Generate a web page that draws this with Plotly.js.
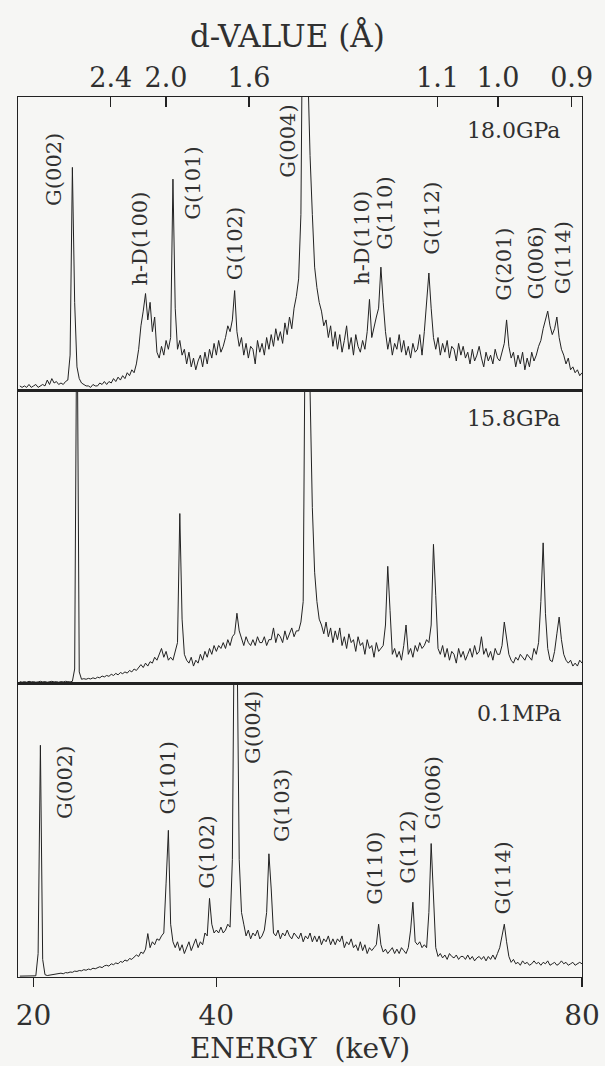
<!DOCTYPE html>
<html>
<head>
<meta charset="utf-8">
<script src="https://cdn.plot.ly/plotly-3.0.1.min.js"></script>
<style>
  html, body { margin: 0; padding: 0; background: #f6f6f4; }
  #chart { width: 605px; height: 1066px; }
</style>
</head>
<body>
<div id="chart"></div>
<script>
// Channel energies (keV)
const energy = [18.5,18.75,
19,19.25,19.5,19.75,20,20.25,20.5,20.75,21,21.25,21.5,21.75,22,22.25,22.5,22.75,23,23.25,23.5,23.75,
24,24.25,24.5,24.75,25,25.25,25.5,25.75,26,26.25,26.5,26.75,27,27.25,27.5,27.75,28,28.25,28.5,28.75,
29,29.25,29.5,29.75,30,30.25,30.5,30.75,31,31.25,31.5,31.75,32,32.25,32.5,32.75,33,33.25,33.5,33.75,
34,34.25,34.5,34.75,35,35.25,35.5,35.75,36,36.25,36.5,36.75,37,37.25,37.5,37.75,38,38.25,38.5,38.75,
39,39.25,39.5,39.75,40,40.25,40.5,40.75,41,41.25,41.5,41.75,42,42.25,42.5,42.75,43,43.25,43.5,43.75,
44,44.25,44.5,44.75,45,45.25,45.5,45.75,46,46.25,46.5,46.75,47,47.25,47.5,47.75,48,48.25,48.5,48.75,
49,49.25,49.5,49.75,50,50.25,50.5,50.75,51,51.25,51.5,51.75,52,52.25,52.5,52.75,53,53.25,53.5,53.75,
54,54.25,54.5,54.75,55,55.25,55.5,55.75,56,56.25,56.5,56.75,57,57.25,57.5,57.75,58,58.25,58.5,58.75,
59,59.25,59.5,59.75,60,60.25,60.5,60.75,61,61.25,61.5,61.75,62,62.25,62.5,62.75,63,63.25,63.5,63.75,
64,64.25,64.5,64.75,65,65.25,65.5,65.75,66,66.25,66.5,66.75,67,67.25,67.5,67.75,68,68.25,68.5,68.75,
69,69.25,69.5,69.75,70,70.25,70.5,70.75,71,71.25,71.5,71.75,72,72.25,72.5,72.75,73,73.25,73.5,73.75,
74,74.25,74.5,74.75,75,75.25,75.5,75.75,76,76.25,76.5,76.75,77,77.25,77.5,77.75,78,78.25,78.5,78.75,
79,79.25,79.5,79.75,80];

// Intensity (% of panel height) — 18.0 GPa
const int18GPa = [1.5,1,
1.5,1,2,1,
1.5,2,1,1.5,
2,1.5,3.5,2,
4,2.5,3,2,
2.5,2,3,3.5,
12,76,30,8,
4,2.5,2,1.5,
1.5,1,2,1.5,
1.5,2.5,2,3,
2,3,2.5,4,
3,4.5,3.5,5,
4,6,5,7,
6,9,14,22,
27,33,24,30,
20,25,13,11,
15,12,17,14,
18,72,28,14,
17,12,14,9,
13,8,11,7,
10,12,8,13,
9,14,11,16,
12,17,13,15,
18,22,20,24,
34,20,15,18,
12,16,11,15,
14,9,17,13,
16,12,18,14,
19,15,21,17,
20,16,23,19,
25,21,28,32,
38,60,160,160,
110,80,60,42,
35,30,27,22,
24,18,22,15,
20,14,19,13,
17,22,14,18,
12,19,15,13,
17,14,20,31,
18,22,25,28,
42,30,20,14,
18,12,16,14,
19,13,17,12,
15,11,16,13,
14,19,12,20,
30,40,28,18,
14,18,12,16,
13,17,11,15,
14,10,16,12,
15,11,13,9,
14,10,12,15,
11,8,13,10,
12,9,14,11,
10,13,16,24,
15,11,13,8,
12,9,13,7,
11,8,13,10,
12,15,17,21,
24,27,22,19,
21,25,18,14,
12,9,11,7,
8,6,7,5,
6];

// Intensity (% of panel height) — 15.8 GPa
const int158GPa = [0.7,0.5,
0.7,0.5,0.8,0.6,
0.7,0.5,0.6,0.8,
0.6,0.7,0.5,0.7,
0.8,0.6,0.7,0.5,
0.7,0.6,0.8,0.7,
0.6,0.8,5,140,
4,1.5,1.7,1.5,
1.8,1.6,2,1.7,
2.2,2,2.6,2.3,
2.8,2.5,3.2,2.8,
3.5,3,3.8,3.4,
4,3.6,4.5,4,
5,4.5,5.5,6.5,
5.5,7,6,7.5,
7,9,8,10,
12,9,11,8,
9,8,11,14,
58,22,10,8,
7,9,6,8,
7,10,8,11,
9,12,10,13,
11,13,12,14,
12,15,13,16,
17,24,18,15,
13,16,14,13,
15,13,16,14,
14,16,13,15,
15,19,14,17,
16,14,18,15,
17,19,16,18,
18,21,28,140,
140,100,60,38,
28,22,20,17,
21,16,19,14,
18,15,19,13,
16,12,17,14,
15,11,16,13,
14,10,15,12,
13,9,14,11,
12,13,20,40,
25,10,12,9,
11,8,13,20,
10,12,9,13,
11,14,12,13,
15,14,20,47.5,
30,12,10,13,
9,12,8,11,
10,7,12,9,
11,8,10,12,
9,13,10,11,
16,10,12,9,
11,8,12,10,
10,13,21,15,
10,8,7,9,
8,10,9,8,
10,9,8,12,
10,14,28,48,
24,12,8,7.5,
11,17,22.7,15,
10,8,7,8,
6,7,6,8,
7];

// Intensity (% of panel height) — 0.1 MPa
const int01MPa = [0.3,0.3,
0.4,0.3,0.3,0.4,
0.3,0.4,8,79,
6,0.8,0.5,0.6,
0.8,1,0.9,1.2,
1.3,1.1,1.5,1.4,
1.7,1.6,2,1.9,
2.2,2.1,2.5,2.3,
2.7,2.5,3,2.8,
3.2,3.5,3.2,3.8,
4,3.7,4.5,4.2,
4.8,4.5,5.3,5,
5.8,5.4,6.3,6,
6.8,7.5,7,8.5,
8,9.5,14.8,10,
12,11,13,12.5,
14,15,32,50,
18,12,10,12,
9,11,8,10,
12,9,11,13,
10,12,11,15,
14,26.8,18,15,
16,15,17,15,
16,18,17,40,
140,120,40,22,
18,14,16,13,
15,14,16,13,
14,16,22,42,
30,15,14,16,
13,15,14,16,
14,13,15,14,
13,15,12,14,
13,15,12,14,
12,14,11,13,
12,14,11,13,
11,13,12,14,
10,12,11,13,
10,11,9,12,
9,11,8,10,
9,10,11,18,
11,8.5,9.5,8,
9,10,8,9.5,
8,10,9,8,
10,16,25.5,12,
11,12,10,11,
10,22,45.5,28,
10,7,8,6.5,
7.5,6,8,7,
6.5,7.5,6,7,
7,6,7.5,6,
7,5.5,6.5,7,
6,7,5.5,7,
6,7.5,6,8,
10,14,18,12,
7,5,6,4.5,
5,4,5.5,4.5,
5,4,4.5,5.5,
4.5,5,4,5,
4.5,5.5,4,4.5,
5,4,4.5,5.5,
4.5,5,4,4.5,
5,4,4.5,5,
4.5];

// Axis ticks
const energyTicks = [20, 40, 60, 80];
const dValues = [2.4, 2.0, 1.6, 1.1, 1.0, 0.9];
const dLabels = ['2.4', '2.0', '1.6', '1.1', '1.0', '0.9'];

// Panel labels
const panelNames = ['18.0GPa', '15.8GPa', '0.1MPa'];
const topPeakNames = ['G(002)', 'h-D(100)', 'G(101)', 'G(102)', 'G(004)', 'h-D(110)', 'G(110)', 'G(112)', 'G(201)', 'G(006)', 'G(114)'];
const bottomPeakNames = ['G(002)', 'G(101)', 'G(102)', 'G(004)', 'G(103)', 'G(110)', 'G(112)', 'G(006)', 'G(114)'];

// energy-dispersive calibration E = k/d + c for the d-value axis (top panel)
const calK = 72.6, calC = -1.8;
const dTickPos = dValues.map(d => calK / d + calC);

const FONT = 'DejaVu Serif';
const INK = '#303030';
const LINE = '#222222';

// layout placement of peak labels [energy, height%]
const topPeakPos = [[22.26,75.2],[31.63,51.7],[37.35,70.5],[41.98,50],[47.8,85],[55.85,52.1],[58.5,60.4],[63.56,58.7],[71.49,42.9],[75.02,43.4],[77.88,45.2]];
const bottomPeakPos = [[23.44,66.5],[34.71,67.7],[38.98,42.4],[44.01,84.9],[47.18,58.6],[57.36,36.9],[60.97,44.1],[63.7,62.6],[71.36,33.6]];

const traceStyle = {mode: 'lines', line: {color: LINE, width: 1}, hoverinfo: 'skip', showlegend: false};
const data = [
  Object.assign({x: energy, y: int18GPa, xaxis: 'x3', yaxis: 'y3'}, traceStyle),
  Object.assign({x: energy, y: int158GPa, xaxis: 'x2', yaxis: 'y2'}, traceStyle),
  Object.assign({x: energy, y: int01MPa, xaxis: 'x', yaxis: 'y'}, traceStyle)
];

const annotations = [];
topPeakNames.forEach((t, i) => annotations.push({
  text: t, x: topPeakPos[i][0], y: topPeakPos[i][1], xref: 'x3', yref: 'y3',
  textangle: -90, showarrow: false, font: {family: FONT, size: 21, color: INK}
}));
bottomPeakNames.forEach((t, i) => annotations.push({
  text: t, x: bottomPeakPos[i][0], y: bottomPeakPos[i][1], xref: 'x', yref: 'y',
  textangle: -90, showarrow: false, font: {family: FONT, size: 21, color: INK}
}));
const panelRefs = [['x3','y3',88.6],['x2','y2',90.5],['x','y',89.7]];
panelNames.forEach((t, i) => annotations.push({
  text: t, x: 77.9, y: panelRefs[i][2], xref: panelRefs[i][0], yref: panelRefs[i][1],
  xanchor: 'right', yanchor: 'middle', showarrow: false, font: {family: FONT, size: 22, color: INK}
}));

const xr = [18.3, 80];
const frameX = {range: xr, showline: true, mirror: true, linecolor: LINE, linewidth: 1.2,
  showgrid: false, zeroline: false, fixedrange: true};
const frameY = {range: [0, 100], showline: true, mirror: true, linecolor: LINE, linewidth: 1.2,
  showgrid: false, zeroline: false, ticks: '', showticklabels: false, fixedrange: true};

const layout = {
  width: 605, height: 1066,
  margin: {l: 18, r: 23, t: 97, b: 89},
  paper_bgcolor: '#f6f6f4', plot_bgcolor: '#f6f6f4',
  font: {family: FONT, color: INK},
  title: {text: 'd-VALUE (\u00c5)', font: {family: FONT, size: 31, color: INK},
    x: 289/605, xanchor: 'center', xref: 'paper', y: 1 - 36/1066, yanchor: 'middle', yref: 'container'},
  xaxis: Object.assign({}, frameX, {anchor: 'y', tickvals: energyTicks, ticktext: energyTicks.map(String),
    ticks: 'outside', ticklen: 9, tickwidth: 1.3, tickcolor: LINE, ticklabelstandoff: 4,
    tickfont: {family: FONT, size: 28, color: INK},
    title: {text: 'ENERGY\u00a0\u00a0(keV)', font: {family: FONT, size: 28, color: INK}, standoff: 4}}),
  xaxis2: Object.assign({}, frameX, {anchor: 'y2', ticks: '', showticklabels: false}),
  xaxis3: Object.assign({}, frameX, {anchor: 'y3', ticks: '', showticklabels: false}),
  xaxis4: {range: xr, overlaying: 'x3', anchor: 'y3', side: 'top', showline: false, showgrid: false,
    zeroline: false, fixedrange: true, tickvals: dTickPos, ticktext: dLabels,
    ticks: 'inside', ticklen: 10, tickwidth: 1.4, tickcolor: LINE, ticklabelstandoff: 4,
    tickfont: {family: FONT, size: 27, color: INK}},
  yaxis: Object.assign({}, frameY, {domain: [0, 1/3], anchor: 'x'}),
  yaxis2: Object.assign({}, frameY, {domain: [1/3, 2/3], anchor: 'x2'}),
  yaxis3: Object.assign({}, frameY, {domain: [2/3, 1], anchor: 'x3'}),
  annotations: annotations
};
// empty trace so the d-value axis is drawn
data.push({x: [xr[0]], y: [null], xaxis: 'x4', yaxis: 'y3', mode: 'lines', hoverinfo: 'skip', showlegend: false});

Plotly.newPlot('chart', data, layout, {staticPlot: true, displayModeBar: false});
</script>
</body>
</html>
